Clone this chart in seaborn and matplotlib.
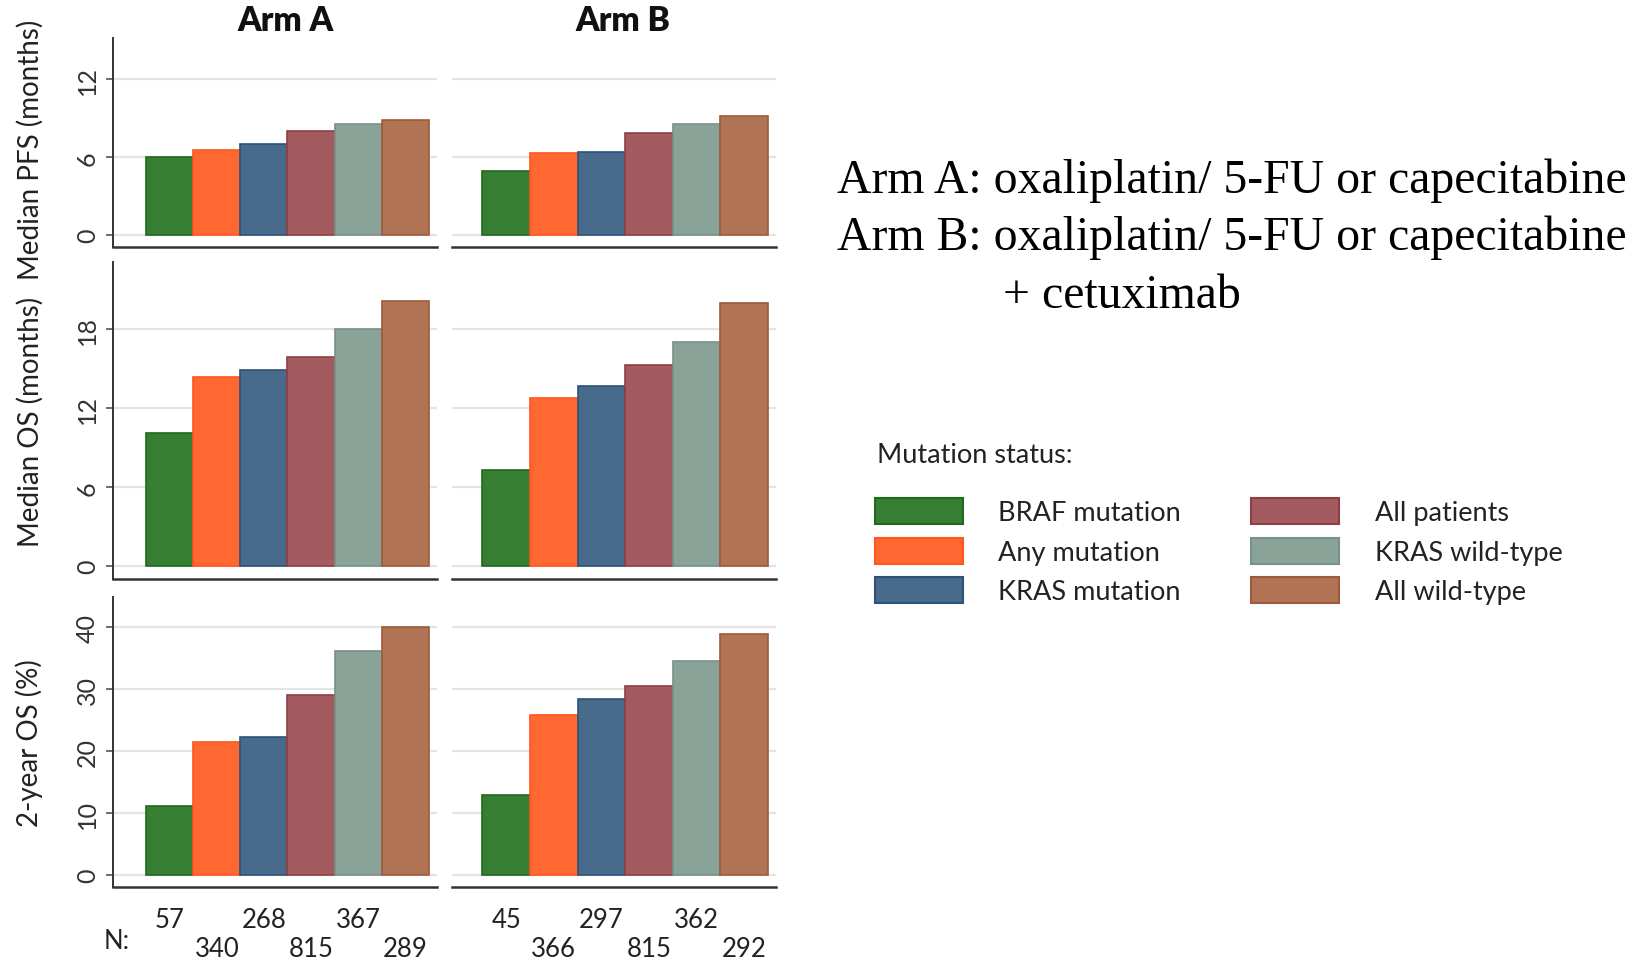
import matplotlib
matplotlib.use("Agg")
import matplotlib.pyplot as plt
import numpy as np
import pandas as pd
import seaborn as sns
from matplotlib.transforms import blended_transform_factory

# ---------------- data ----------------
groups = ["BRAF mutation", "Any mutation", "KRAS mutation",
          "All patients", "KRAS wild-type", "All wild-type"]
arms = ["Arm A", "Arm B"]

pfs_a = [6.0, 6.55, 7.0, 8.05, 8.6, 8.85]
pfs_b = [4.9, 6.3, 6.4, 7.9, 8.6, 9.2]
os_a = [10.1, 14.35, 14.9, 15.85, 18.0, 20.15]
os_b = [7.3, 12.75, 13.7, 15.3, 17.05, 20.0]
os2_a = [11.2, 21.45, 22.35, 29.0, 36.25, 40.0]
os2_b = [12.9, 25.85, 28.45, 30.5, 34.6, 38.85]
n_a = [57, 340, 268, 815, 367, 289]
n_b = [45, 366, 297, 815, 362, 292]

row_labels = ["Median PFS (months)", "Median OS (months)", "2-year OS (%)"]
row_ticks = [[0, 6, 12], [0, 6, 12, 18], [0, 10, 20, 30, 40]]
row_ylims = [(-0.93, 15.2), (-0.97, 23.1), (-1.94, 44.9)]

arm_text = ["Arm A: oxaliplatin/ 5-FU or capecitabine",
            "Arm B: oxaliplatin/ 5-FU or capecitabine",
            "+ cetuximab"]
legend_title = "Mutation status:"

colors = ["#367E32", "#FF6830", "#486A8B", "#A45B5F", "#8AA398", "#B07353"]
edges = ["#1F6A1F", "#FF5520", "#2E5378", "#8E3F46", "#789288", "#9E5A3C"]

values = {("Arm A", 0): pfs_a, ("Arm B", 0): pfs_b,
          ("Arm A", 1): os_a, ("Arm B", 1): os_b,
          ("Arm A", 2): os2_a, ("Arm B", 2): os2_b}
counts = {"Arm A": n_a, "Arm B": n_b}

# ---------------- style ----------------
sns.set_style("white")
plt.rcParams["font.family"] = ["Lato", "DejaVu Sans"]

W, H = 1651, 962
fig = plt.figure(figsize=(W / 100, H / 100), dpi=100)

col_x = [(113, 437), (452, 776)]
row_y = [(39, 248), (263, 580), (598, 888)]
col_xlim = [(-1.2, 5.67), (-1.14, 5.67)]

pal = dict(zip(groups, colors))
handles = labels = None

for r in range(3):
    for c, arm in enumerate(arms):
        x0, x1 = col_x[c]
        y0, y1 = row_y[r]
        ax = fig.add_axes([x0 / W, 1 - y1 / H, (x1 - x0) / W, (y1 - y0) / H])
        df = pd.DataFrame({"group": groups, "value": values[(arm, r)]})
        sns.barplot(data=df, x="group", y="value", hue="group", order=groups,
                    hue_order=groups, palette=pal, width=1.0, dodge=False,
                    legend=(r == 0 and c == 0), ax=ax, saturation=1)
        for cont, ec in zip(ax.containers, edges):
            for p in cont:
                p.set_edgecolor(ec)
                p.set_linewidth(1.2)
        if ax.get_legend() is not None:
            handles, labels = ax.get_legend_handles_labels()
            ax.get_legend().remove()
        ax.set_xlim(*col_xlim[c])
        ax.set_ylim(*row_ylims[r])
        ax.set_yticks(row_ticks[r])
        ax.yaxis.grid(True, color="#e4e4e4", lw=1.6)
        ax.set_axisbelow(True)
        ax.set_xticks([])
        ax.set_xlabel("")
        for s in ["top", "right"]:
            ax.spines[s].set_visible(False)
        ax.spines["bottom"].set_color("#333333")
        ax.spines["bottom"].set_linewidth(1.8)
        if c == 0:
            ax.spines["left"].set_color("#333333")
            ax.spines["left"].set_linewidth(1.4)
            ax.tick_params(axis="y", left=True, length=5, width=1.2,
                           color="#555555", labelsize=18, labelcolor="#333333",
                           pad=5, labelrotation=90)
            for t in ax.get_yticklabels():
                t.set_va("center")
            ax.set_ylabel(row_labels[r], fontsize=20, color="#222222")
            ax.yaxis.set_label_coords(-0.215, 0.47 if r == 0 else 0.5)
        else:
            ax.spines["left"].set_visible(False)
            ax.tick_params(axis="y", left=False, labelleft=False)
            ax.set_ylabel("")
        if r == 0:
            tr = blended_transform_factory(ax.transData, fig.transFigure)
            ax.text(2.45, 1 - 21 / H, arm, transform=tr, ha="center", va="center",
                    fontsize=24, fontweight="heavy", color="#111111")
        if r == 2:
            tr = blended_transform_factory(ax.transData, fig.transFigure)
            for i, n in enumerate(counts[arm]):
                yy = 921 if i % 2 == 0 else 950
                ax.text(i, 1 - yy / H, str(n), transform=tr, ha="center",
                        va="center", fontsize=18.5, color="#222222")
            if c == 0:
                fig.text(117 / W, 1 - 942 / H, "N:", ha="center", va="center",
                         fontsize=18.5, color="#222222")

# legend
for h, ec in zip(handles, edges):
    h.set_edgecolor(ec)
    h.set_linewidth(1.5)
fig.text(877 / W, 1 - 456 / H, legend_title, ha="left", va="center",
         fontsize=19.5, color="#222222")
fig.legend(handles, labels, ncol=2, loc="upper left",
           bbox_to_anchor=(875 / W, 1 - 499 / H), frameon=False, fontsize=19.5,
           handlelength=3.25, handleheight=1.12, handletextpad=1.3,
           columnspacing=2.6, labelspacing=0.45, borderpad=0, borderaxespad=0,
           labelcolor="#222222")

# treatment description
serif = ["Liberation Serif", "DejaVu Serif"]
fig.text(837 / W, 1 - 181 / H, arm_text[0], ha="left", va="center",
         fontsize=34.4, family=serif, color="#000000")
fig.text(837 / W, 1 - 238 / H, arm_text[1], ha="left", va="center",
         fontsize=34.4, family=serif, color="#000000")
fig.text(1003 / W, 1 - 296 / H, arm_text[2], ha="left", va="center",
         fontsize=34.4, family=serif, color="#000000")

fig.savefig("out.png", dpi=100)
